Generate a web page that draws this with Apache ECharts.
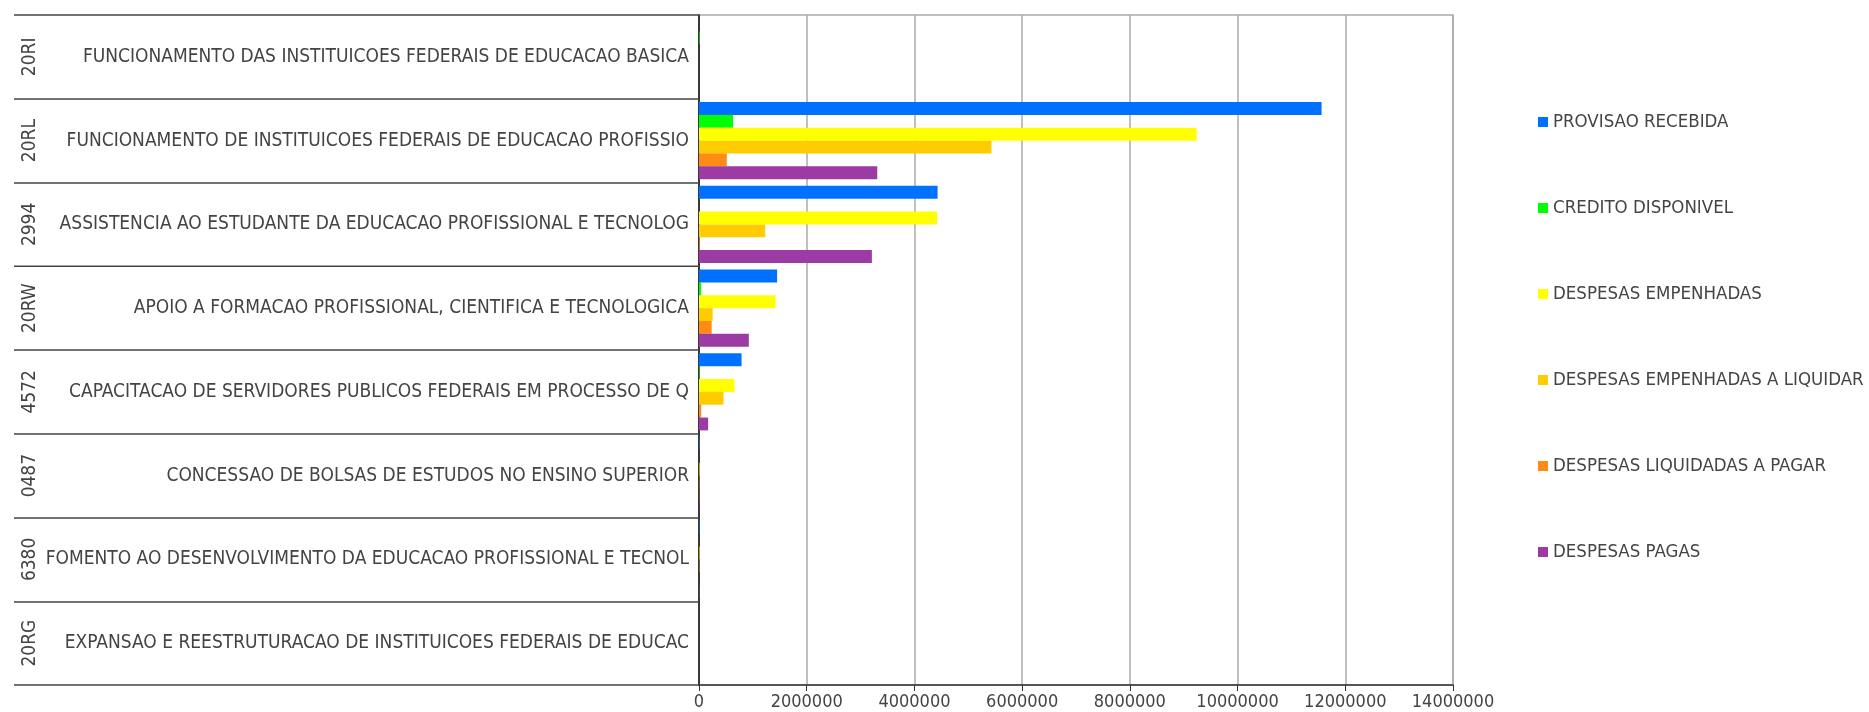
<!DOCTYPE html>
<html>
<head>
<meta charset="utf-8">
<script src="https://cdn.jsdelivr.net/npm/echarts@6/dist/echarts.min.js"></script>
<style>
html,body{margin:0;padding:0;background:#fff;}
#chart{width:1869px;height:712px;}
</style>
</head>
<body>
<div id="chart"></div>
<script>
var codes = ['20RI','20RL','2994','20RW','4572','0487','6380','20RG'];
var names = [
  'FUNCIONAMENTO DAS INSTITUICOES FEDERAIS DE EDUCACAO BASICA',
  'FUNCIONAMENTO DE INSTITUICOES FEDERAIS DE EDUCACAO PROFISSIO',
  'ASSISTENCIA AO ESTUDANTE DA EDUCACAO PROFISSIONAL E TECNOLOG',
  'APOIO A FORMACAO PROFISSIONAL, CIENTIFICA E TECNOLOGICA',
  'CAPACITACAO DE SERVIDORES PUBLICOS FEDERAIS EM PROCESSO DE Q',
  'CONCESSAO DE BOLSAS DE ESTUDOS NO ENSINO SUPERIOR',
  'FOMENTO AO DESENVOLVIMENTO DA EDUCACAO PROFISSIONAL E TECNOL',
  'EXPANSAO E REESTRUTURACAO DE INSTITUICOES FEDERAIS DE EDUCAC'
];
var seriesNames = ['PROVISAO RECEBIDA','CREDITO DISPONIVEL','DESPESAS EMPENHADAS','DESPESAS EMPENHADAS A LIQUIDAR','DESPESAS LIQUIDADAS A PAGAR','DESPESAS PAGAS'];
var provisaoRecebida        = [0, 11560000, 4430000, 1450000, 790000, 10000, 10000, 0];
var creditoDisponivel       = [10000, 632000, 0, 40000, 10000, 0, 0, 0];
var despesasEmpenhadas      = [0, 9240000, 4420000, 1420000, 660000, 10000, 10000, 0];
var despesasEmpALiquidar    = [0, 5430000, 1230000, 254000, 455000, 5000, 5000, 0];
var despesasLiqAPagar       = [0, 516000, 12000, 235000, 40000, 5000, 0, 0];
var despesasPagas           = [0, 3310000, 3210000, 925000, 170000, 5000, 8000, 0];
var xTicks = [0, 2000000, 4000000, 6000000, 8000000, 10000000, 12000000, 14000000];

var colors = ['#0070ff','#00ff00','#ffff00','#ffcc00','#ff8a14','#9b3ba3'];
var values = [provisaoRecebida, creditoDisponivel, despesasEmpenhadas, despesasEmpALiquidar, despesasLiqAPagar, despesasPagas];
var FONT = 'DejaVu Sans Condensed';

var chart = echarts.init(document.getElementById('chart'), null, {renderer:'canvas'});
var series = seriesNames.map(function(n, i){
  return {
    name: n, type: 'bar', yAxisIndex: 0, data: values[i],
    itemStyle: {color: colors[i]},
    barGap: '0%', barCategoryGap: '8%',
    emphasis: {disabled: true}, animation: false
  };
});
chart.setOption({
  animation: false,
  backgroundColor: '#fff',
  color: colors,
  grid: {left: 699, right: 416, top: 15, bottom: 27, show: true, borderColor: '#aaaaaa', borderWidth: 1.5, containLabel: false},
  legend: {
    orient: 'vertical', left: 1533, top: 107, itemWidth: 10, itemHeight: 10, itemGap: 66,
    icon: 'rect', data: seriesNames,
    textStyle: {fontFamily: FONT, fontSize: 18.5, color: '#444', lineHeight: 20},
    selectedMode: false
  },
  xAxis: {
    type: 'value', min: xTicks[0], max: xTicks[xTicks.length-1], interval: xTicks[1]-xTicks[0],
    axisLine: {show: true, lineStyle: {color: '#333', width: 1.5}},
    axisTick: {show: true, length: 6, lineStyle: {color: '#333'}},
    splitLine: {show: true, lineStyle: {color: '#aaaaaa', width: 1.5}},
    axisLabel: {fontFamily: FONT, fontSize: 18, color: '#444', margin: 8,
      formatter: function(v){ return String(v); }}
  },
  yAxis: [
    {
      type: 'category', inverse: true, data: names, position: 'left',
      axisLine: {show: true, lineStyle: {color: '#111', width: 1.5}},
      axisTick: {show: true, length: 685, lineStyle: {color: '#444', width: 1.5}},
      axisLabel: {fontFamily: FONT, fontSize: 19, color: '#444', margin: 10},
      splitLine: {show: false}
    },
    {
      type: 'category', inverse: true, data: codes, position: 'left',
      axisLine: {show: false}, axisTick: {show: false},
      axisLabel: {fontFamily: FONT, fontSize: 19, color: '#444', rotate: 90, margin: 659},
      splitLine: {show: false}
    }
  ],
  series: series
});
</script>
</body>
</html>
